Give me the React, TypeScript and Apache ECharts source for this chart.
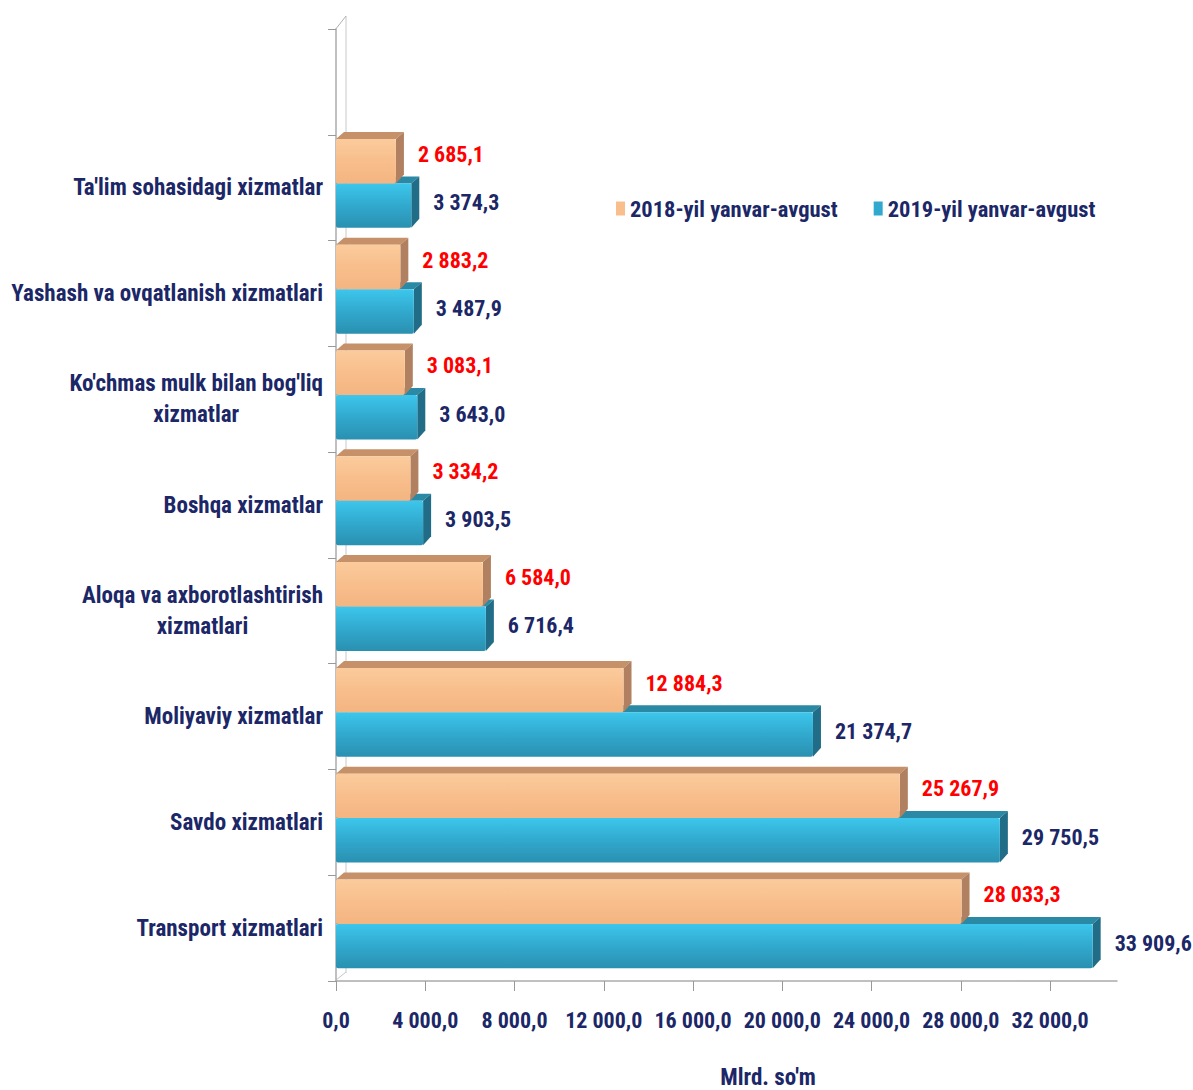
import React, { useEffect, useRef } from "react";
import * as echarts from "echarts";

const categories = [
  "Transport xizmatlari",
  "Savdo xizmatlari",
  "Moliyaviy xizmatlar",
  "Aloqa va axborotlashtirish\nxizmatlari",
  "Boshqa xizmatlar",
  "Ko'chmas mulk bilan bog'liq\nxizmatlar",
  "Yashash va ovqatlanish xizmatlari",
  "Ta'lim sohasidagi xizmatlar",
  "",
];
const values2018 = [28033.3, 25267.9, 12884.3, 6584.0, 3334.2, 3083.1, 2883.2, 2685.1];
const values2019 = [33909.6, 29750.5, 21374.7, 6716.4, 3903.5, 3643.0, 3487.9, 3374.3];
const xTicks = [0, 4000, 8000, 12000, 16000, 20000, 24000, 28000, 32000];
const seriesNames = ["2018-yil yanvar-avgust", "2019-yil yanvar-avgust"];
const axisTitle = "Mlrd. so'm";

const FONT = "'Roboto Condensed', 'Liberation Sans Narrow', 'Arial Narrow', 'Noto Sans', 'Open Sans', sans-serif";
const NAVY = "#1B2767";

function fmt(v: number): string {
  const [i, d] = v.toFixed(1).split(".");
  return i.replace(/\B(?=(\d{3})+(?!\d))/g, " ") + "," + d;
}

function makeRender(isTop: boolean) {
  const colors = isTop
    ? {
        front: ["#FBCB9C", "#F8BE8C", "#F3B582"],
        top: "#C69068",
        side: "#B08060",
        label: "#FF0000",
        dyLabel: -7,
      }
    : {
        front: ["#3DC6EC", "#31A9CE", "#2A90B0"],
        top: "#2A89A5",
        side: "#216C86",
        label: NAVY,
        dyLabel: -3,
      };
  return (params: any, api: any) => {
    const v = api.value(0);
    const c = api.value(1);
    const p = api.coord([v, c]);
    const p0 = api.coord([0, c]);
    const b = api.size([0, 1])[1];
    const h = b * 0.42;
    const boundary = p[1] - b * 0.04;
    const y0 = isTop ? boundary - h : boundary;
    const y1 = y0 + h;
    const x0 = p0[0];
    const x1 = p[0];
    const dx = 8;
    const dy = 7;
    return {
      type: "group",
      children: [
        {
          type: "polygon",
          shape: { points: [[x0, y0], [x0 + dx, y0 - dy], [x1 + dx, y0 - dy], [x1, y0]] },
          style: { fill: colors.top },
        },
        {
          type: "polygon",
          shape: { points: [[x1, y0], [x1 + dx, y0 - dy], [x1 + dx, y1 - dy - 2], [x1, y1]] },
          style: { fill: colors.side },
        },
        {
          type: "rect",
          shape: { x: x0, y: y0, width: x1 - x0, height: h, r: 2 },
          style: {
            fill: new echarts.graphic.LinearGradient(0, 0, 0, 1, [
              { offset: 0, color: colors.front[0] },
              { offset: 0.5, color: colors.front[1] },
              { offset: 1, color: colors.front[2] },
            ]),
          },
        },
        {
          type: "text",
          x: x1 + 22,
          y: (y0 + y1) / 2 + colors.dyLabel,
          style: {
            text: fmt(v),
            fill: colors.label,
            fontSize: 22,
            fontWeight: "bold",
            fontFamily: FONT,
            align: "left",
            verticalAlign: "middle",
          },
        },
      ],
    };
  };
}

export default function App() {
  const ref = useRef<HTMLDivElement>(null);
  useEffect(() => {
    document.body.style.margin = "0";
    const st = document.createElement("style");
    st.textContent = "#root svg text { font-stretch: condensed !important; }";
    document.head.appendChild(st);
    const chart = echarts.init(ref.current!, undefined, { renderer: "svg" });
    chart.setOption({
      animation: false,
      backgroundColor: "#FFFFFF",
      grid: { left: 336, right: 76, top: 29, bottom: 109, containLabel: false, outerBoundsMode: "none" },
      legend: {
        data: [
          { name: seriesNames[0], icon: "rect" },
          { name: seriesNames[1], icon: "rect" },
        ],
        orient: "horizontal",
        left: 611,
        top: 192,
        width: 570,
        itemWidth: 9,
        itemHeight: 14,
        itemGap: 36,
        textStyle: { color: NAVY, fontSize: 22.5, fontWeight: "bold", fontFamily: FONT },
      },
      xAxis: {
        type: "value",
        min: 0,
        max: 35000,
        interval: 4000,
        splitLine: { show: false },
        axisLine: { show: true, lineStyle: { color: "#ABABAB", width: 1.5 } },
        axisTick: { show: true, length: 10, lineStyle: { color: "#999999" }, customValues: xTicks },
        axisLabel: {
          customValues: xTicks,
          hideOverlap: false,
          formatter: (v: number) => fmt(v),
          margin: 28,
          color: NAVY,
          fontSize: 22,
          fontWeight: "bold",
          fontFamily: FONT,
        },
      },
      yAxis: {
        type: "category",
        data: categories,
        axisLine: { show: true, lineStyle: { color: "#ABABAB", width: 1.5 } },
        axisTick: { show: true, length: 8, lineStyle: { color: "#999999" } },
        axisLabel: {
          margin: 13,
          formatter: (v: string) =>
            v
              .split("\n")
              .map((s) => "{a|" + s + "}")
              .join("\n"),
          rich: {
            a: {
              align: "center",
              color: NAVY,
              fontSize: 23,
              fontWeight: "bold",
              fontFamily: FONT,
              lineHeight: 31,
            },
          },
        },
      },
      graphic: [
        {
          type: "line",
          shape: { x1: 346, y1: 16, x2: 346, y2: 973 },
          style: { stroke: "#C8C8C8", lineWidth: 1 },
          z: 0,
        },
        {
          type: "line",
          shape: { x1: 335, y1: 30, x2: 346, y2: 16 },
          style: { stroke: "#B0B0B0", lineWidth: 1 },
          z: 0,
        },
        {
          type: "line",
          shape: { x1: 336, y1: 980, x2: 346, y2: 972 },
          style: { stroke: "#C8C8C8", lineWidth: 1 },
          z: 0,
        },
        {
          type: "text",
          x: 768,
          y: 1077,
          style: {
            text: axisTitle,
            fill: NAVY,
            fontSize: 23,
            fontWeight: "bold",
            fontFamily: FONT,
            align: "center",
            verticalAlign: "middle",
          },
        },
      ],
      series: [
        {
          name: seriesNames[1],
          type: "custom",
          renderItem: makeRender(false),
          itemStyle: { color: "#31A9CE" },
          encode: { x: 0, y: 1 },
          data: values2019.map((v, i) => [v, i]),
          z: 3,
        },
        {
          name: seriesNames[0],
          type: "custom",
          renderItem: makeRender(true),
          itemStyle: { color: "#F8BE8C" },
          encode: { x: 0, y: 1 },
          data: values2018.map((v, i) => [v, i]),
          z: 4,
        },
      ],
    });
    return () => {
      chart.dispose();
      st.remove();
    };
  }, []);
  return <div ref={ref} style={{ width: 1193, height: 1090 }} />;
}
